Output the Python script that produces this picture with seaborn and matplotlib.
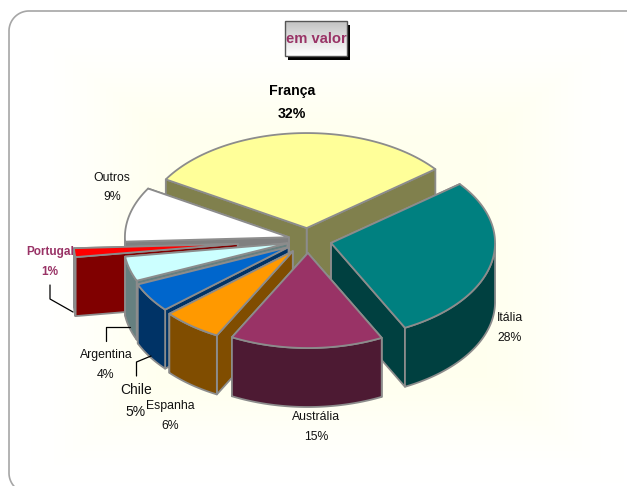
import numpy as np
import matplotlib
matplotlib.use("Agg")
import matplotlib.pyplot as plt
from matplotlib.patches import Polygon, Rectangle
import seaborn as sns

# ---- data -------------------------------------------------------------
categories = ["Itália", "Austrália", "Espanha", "Chile", "Argentina", "Portugal", "Outros", "França"]
pct_labels = ["28%", "15%", "6%", "5%", "4%", "1%", "9%", "32%"]
# angular shares (percent of the full circle)
shares = [28.2, 15.1, 5.9, 5.0, 4.2, 1.5, 9.3, 30.8]
explode = [0.144, 0.137, 0.15, 0.14, 0.13, 0.43, 0.12, 0.126]
top_hex = ["#008080", "#993366", "#FF9900", "#0066CC", "#CCFFFF", "#FF0000", "#FFFFFF", "#FFFF99"]
draw_order = ["França", "Outros", "Portugal", "Argentina", "Chile", "Espanha", "Itália", "Austrália"]

sns.set_theme(style="white", rc={"font.family": ["Liberation Sans"]})
palette = sns.color_palette(top_hex)

W, H = 627, 486
fig = plt.figure(figsize=(W / 100, H / 100), dpi=100, facecolor="white")
ax = fig.add_axes([0, 0, 1, 1])
ax.axis("off")

# soft yellow glow
gx0, gx1, gy0, gy1 = 30, 625, 30, 484
yy, xx = np.mgrid[0:1:240j, 0:1:240j]
edge = np.minimum.reduce([xx, 1 - xx, yy, 1 - yy])
glow = np.clip(edge / 0.26, 0, 1)
glow = glow * glow * (3 - 2 * glow)
rgba = np.ones((240, 240, 4))
rgba[..., 2] = 1 - 0.065 * glow
ax.imshow(rgba, extent=(gx0, gx1, gy1, gy0), zorder=1, aspect="auto", interpolation="bilinear")

# card outline: top edge, rounded top-left corner, left edge, rounded bottom-left corner
rad = 20
left, top, bottom = 9, 11, 493
phi = np.radians(np.linspace(90, 270, 60))
corner_x = left + rad + rad * np.cos(phi)
corner_top_y = top + rad - rad * np.sin(phi[:30])
corner_bot_y = bottom - rad - rad * np.sin(phi[30:])
ax.plot(np.r_[W + 5, corner_x], np.r_[top, corner_top_y, corner_bot_y],
        color="#A6A6A6", lw=1.2, zorder=2, clip_on=True)

# ---- exploded 3-D pie -------------------------------------------------
cx, cy = 308, 240
rx, ry, depth = 164, 95, 59
edge_c = "#8C8C8C"
z = 3


def arc(x0, y0, a0, a1, n=80):
    t = np.radians(np.linspace(a0, a1, n))
    return np.c_[x0 + rx * np.cos(t), y0 - ry * np.sin(t)]


start = 38.3
spans = {}
for name, s, e in zip(categories, shares, explode):
    end = start - s * 3.6
    spans[name] = (start, end, e)
    start = end

colors = dict(zip(categories, palette))
for name in draw_order:
    a0, a1, e = spans[name]
    mid = np.radians((a0 + a1) / 2)
    ax0 = cx + e * rx * np.cos(mid)
    ay0 = cy - e * ry * np.sin(mid)
    col = np.array(colors[name])
    wall = tuple(col * 0.5)
    curve = arc(ax0, ay0, a0, a1)
    apex = np.array([[ax0, ay0]])
    down = np.array([0, depth])
    lw = 1.3
    # cut faces: the one reaching lower on the page is painted last
    for p in sorted((curve[0], curve[-1]), key=lambda q: q[1]):
        quad = np.vstack([apex, [p], [p + down], apex + down])
        ax.add_patch(Polygon(quad, closed=True, fc=wall, ec=edge_c, lw=lw, zorder=z, joinstyle="round"))
        z += 1
    # outer rim, only where it faces the viewer
    ang = np.linspace(a0, a1, 200) % 360
    mask = (ang >= 180) & (ang <= 360)
    if mask.any():
        t = np.radians(ang[mask])
        rim = np.c_[ax0 + rx * np.cos(t), ay0 - ry * np.sin(t)]
        ax.add_patch(Polygon(np.vstack([rim, rim[::-1] + down]), closed=True,
                             fc=wall, ec=edge_c, lw=lw, zorder=z, joinstyle="round"))
        z += 1
    ax.add_patch(Polygon(np.vstack([apex, curve]), closed=True, fc=tuple(col), ec=edge_c,
                         lw=lw, zorder=z, joinstyle="round"))
    z += 1

# ---- leader lines -----------------------------------------------------
leader_kw = dict(color="black", lw=0.9, zorder=z)
ax.plot([50, 50, 73], [285, 299, 312], **leader_kw)
ax.plot([105.5, 105.5, 130], [341, 327, 327], **leader_kw)
ax.plot([136.5, 136.5, 151], [376, 362, 356], **leader_kw)

# ---- labels -----------------------------------------------------------
z += 1
purple = "#993366"
ink = "#111111"
label_style = {
    "França": dict(xy=(292, 91), gap=23, size=10.2, weight="bold", color="black"),
    "Itália": dict(xy=(510, 318), gap=20, size=8.8, color=ink),
    "Austrália": dict(xy=(316, 417), gap=20, size=8.8, color=ink),
    "Espanha": dict(xy=(170, 406), gap=20, size=8.8, color=ink),
    "Chile": dict(xy=(136, 390), gap=22, size=10, color=ink),
    "Argentina": dict(xy=(106, 355), gap=20, size=8.8, color=ink),
    "Portugal": dict(xy=(50, 252), gap=20, size=8.5, weight="bold", color=purple),
    "Outros": dict(xy=(112, 178), gap=19, size=8.8, color=ink),
}
for name, pct in zip(categories, pct_labels):
    st = dict(label_style[name])
    x, y = st.pop("xy")
    gap = st.pop("gap")
    ax.text(x, y, name, ha="center", va="center", zorder=z, **st)
    ax.text(x, y + gap, pct, ha="center", va="center", zorder=z, **st)

# ---- title box --------------------------------------------------------
ax.add_patch(Rectangle((288, 25), 62, 35, fc="black", ec="none", zorder=z))
grad = np.linspace(0.76, 1, 64)[:, None]
ax.imshow(grad, extent=(285, 347, 56, 21), cmap="gray", vmin=0, vmax=1, zorder=z + 1,
          aspect="auto")
ax.add_patch(Rectangle((285, 21), 62, 35, fc="none", ec="#555555", lw=1, zorder=z + 2))
ax.text(316, 39, "em valor", ha="center", va="center", size=10.6, weight="bold",
        color=purple, zorder=z + 3)

ax.set_xlim(0, W)
ax.set_ylim(H, 0)
fig.savefig("out.png", dpi=100)
